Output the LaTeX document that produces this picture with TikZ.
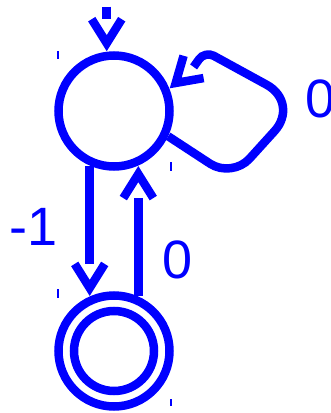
\documentclass[tikz,border=0pt]{standalone}
\usepackage{fontspec}
\setmainfont{Liberation Sans}
\usetikzlibrary{calc}
\newcommand{\vhead}[3]{%
  \coordinate (#1v) at ($(#2)!8.5pt!(#3)$);
  \coordinate (#1b) at ($(#1v)!24pt!(#3)$);
  \draw[head] ($(#1b)!15pt!90:(#1v)$) -- (#1v) -- ($(#1b)!15pt!-90:(#1v)$);
}
\begin{document}
\begin{tikzpicture}[x=1pt,y=-1pt,
  ink/.style={draw=blue, line width=8.5pt},
  state/.style={circle, ink, minimum size=111pt, inner sep=0pt},
  shaft/.style={ink, line cap=butt},
  head/.style={ink, line cap=butt, line join=miter, miter limit=10},
  lbl/.style={text=blue, inner sep=0pt, font=\fontsize{54}{54}\selectfont},
  tick/.style={draw=blue, line width=1.2pt}]
\useasboundingbox (0,0) rectangle (330,413);
\node[state] (q0) at (114,111) {};
\node[state] (q1) at (114,351) {};
\draw[ink] (q1.center) circle[radius=40pt];
% initial arrow
\coordinate (init) at ($(q0.97)+(0,-45)$);
\vhead{i}{q0.97}{init}
\draw[shaft] (init) -- (ib);
% q0 -> q1
\vhead{d}{q1.114}{q0.246}
\draw[shaft] (q0.246) -- (db);
% q1 -> q0
\vhead{u}{q0.294}{q1.66}
\draw[shaft] (q1.66) -- (ub);
% loop
\coordinate (ld) at (218,45);
\vhead{l}{q0.22}{ld}
\draw[shaft] (q0.-25) [rounded corners=26pt] -- (232,178) [rounded corners=38pt] -- (300,103) [rounded corners=10pt] -- (205,51) -- (lb);
% labels
\node[lbl] (l0) at (320.6,98.5) {0};
\node[lbl] (lm1) at (33.6,227) {-1};
\node[lbl] (l1) at (178,259.5) {0};
% ticks
\draw[tick] (58,51) -- (58,59);
\draw[tick] (171,162) -- (171,171);
\draw[tick] (58,289) -- (58,298);
\draw[tick] (171,399) -- (171,406);
\end{tikzpicture}
\end{document}
